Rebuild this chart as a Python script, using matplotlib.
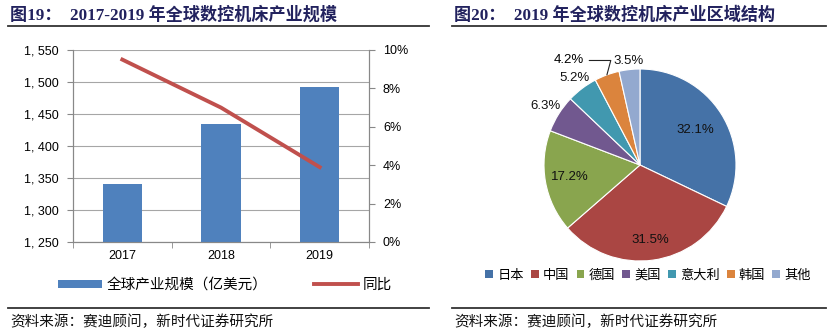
import matplotlib
matplotlib.use('Agg')
import matplotlib.pyplot as plt
import numpy as np
from matplotlib.lines import Line2D
from matplotlib.patches import Patch

plt.rcParams['font.family'] = ['Liberation Sans', 'Noto Sans CJK SC']

# data
years = ['2017', '2018', '2019']
scale = [1341, 1435, 1492]          # 亿美元
yoy = [9.5, 7.0, 3.9]               # %
regions = ['日本', '中国', '德国', '美国', '意大利', '韩国', '其他']
shares = [32.1, 31.5, 17.2, 6.3, 5.2, 4.2, 3.5]
pie_colors = ['#4572A7', '#AA4643', '#89A54E', '#71588F', '#4198AF', '#DB843D', '#93A9CF']

W, H = 828, 331
fig = plt.figure(figsize=(W / 100, H / 100), dpi=100)

def box(x0, y0, x1, y1):
    # pixel box (top-left origin) -> figure fraction
    return [x0 / W, 1 - y1 / H, (x1 - x0) / W, (y1 - y0) / H]

title_color = '#22225E'
title_font = ['Liberation Serif', 'Noto Sans CJK SC']
cjk = ['Noto Sans CJK SC']

# headers, rules, sources
fig.text(10 / W, 1 - 15 / H, '图19：  2017-2019 年全球数控机床产业规模', family=title_font,
         fontsize=12.3, fontweight='bold', color=title_color, va='center')
fig.text(454 / W, 1 - 15 / H, '图20：  2019 年全球数控机床产业区域结构', family=title_font,
         fontsize=12.3, fontweight='bold', color=title_color, va='center')
for (xa, xb) in [(8, 429), (452, 826)]:
    for yy in (26, 308):
        fig.add_artist(Line2D([xa / W, xb / W], [1 - yy / H] * 2, color='#333333', lw=1.3))
for xs in (10, 454):
    fig.text(xs / W, 1 - 322 / H, '资料来源：赛迪顾问，新时代证券研究所', family=cjk,
             fontsize=10.5, va='center', color='#111111')

# left: bars + line
ax = fig.add_axes(box(73, 50, 369, 242))
x = np.arange(len(years))
ax.bar(x, scale, width=0.4, color='#4F81BD', zorder=3)
ax.set_xlim(-0.5, 2.5)
ax.set_ylim(1250, 1550)
ticks_left = list(range(1250, 1551, 50))
ax.set_yticks(ticks_left)
ax.set_yticklabels([f'{v:,}'.replace(',', ', ') for v in ticks_left])
ax.grid(axis='y', color='#A6A6A6', lw=0.8, zorder=0)
ax.set_xticks(x)
ax.set_xticklabels(years)
ax.set_xticks([-0.5, 0.5, 1.5, 2.5], minor=True)
ax.tick_params(axis='x', which='major', length=0, pad=6, labelsize=9)
ax.tick_params(axis='x', which='minor', length=4, color='#888888', direction='out')
ax.tick_params(axis='y', length=4, color='#888888', labelsize=9, pad=6)
for s in ['left', 'bottom', 'right']:
    ax.spines[s].set_color('#888888')
ax.spines['top'].set_visible(False)

ax2 = ax.twinx()
ax2.plot(x, yoy, color='#C0504D', lw=2.8, zorder=4)
ax2.set_ylim(0, 10)
ax2.set_yticks(np.arange(0, 11, 2))
ax2.set_yticklabels([f'{v}%' for v in range(0, 11, 2)])
ax2.tick_params(axis='y', length=4, color='#888888', labelsize=9, pad=6)
for s in ['left', 'bottom', 'right']:
    ax2.spines[s].set_color('#888888')
ax2.spines['top'].set_visible(False)

handles = [Patch(facecolor='#4F81BD', edgecolor='none'),
           Line2D([0], [0], color='#C0504D', lw=2.8)]
fig.legend(handles, ['全球产业规模（亿美元）', '同比'], loc='center',
           bbox_to_anchor=(225 / W, 1 - 285 / H), ncol=2, frameon=False,
           handlelength=3.0, handleheight=0.45, columnspacing=3.2,
           handletextpad=0.3, prop={'family': cjk, 'size': 10.5})

# right: pie
cx, cy = 640, 165
pax = fig.add_axes(box(cx - 120, cy - 120, cx + 120, cy + 120))
pax.set_xlim(-1.3, 1.3)
pax.set_ylim(-1.3, 1.3)
pax.set_aspect('equal')
pax.axis('off')
wedges, _ = pax.pie(shares, colors=pie_colors, startangle=90, counterclock=False,
                    wedgeprops=dict(edgecolor='white', linewidth=0.8))

label_r = [0.68, 0.79, 0.74, 1.16, 1.13, None, 1.09]
for i, (w, v) in enumerate(zip(wedges, shares)):
    mid = np.deg2rad((w.theta1 + w.theta2) / 2)
    txt = f'{v}%'
    if label_r[i] is None:
        ex, ey = np.cos(mid), np.sin(mid)
        pax.annotate(txt, xy=(ex, ey), xytext=(ex - 0.4, ey + 0.15), fontsize=9.5,
                     ha='center', va='center',
                     arrowprops=dict(arrowstyle='-', color='#222222', lw=0.8,
                                     connectionstyle='angle,angleA=0,angleB=75,rad=0',
                                     shrinkA=2, shrinkB=0))
    else:
        r = label_r[i]
        pax.text(r * np.cos(mid), r * np.sin(mid), txt, fontsize=9.5, ha='center', va='center',
                 color='#111111')

phandles = [Patch(facecolor=c, edgecolor='none') for c in pie_colors]
fig.legend(phandles, regions, loc='center', bbox_to_anchor=(648 / W, 1 - 275 / H),
           ncol=7, frameon=False, handlelength=0.6, handleheight=0.6, handletextpad=0.3,
           columnspacing=0.55, prop={'family': cjk, 'size': 9.5})

fig.savefig('out.png', dpi=100)
